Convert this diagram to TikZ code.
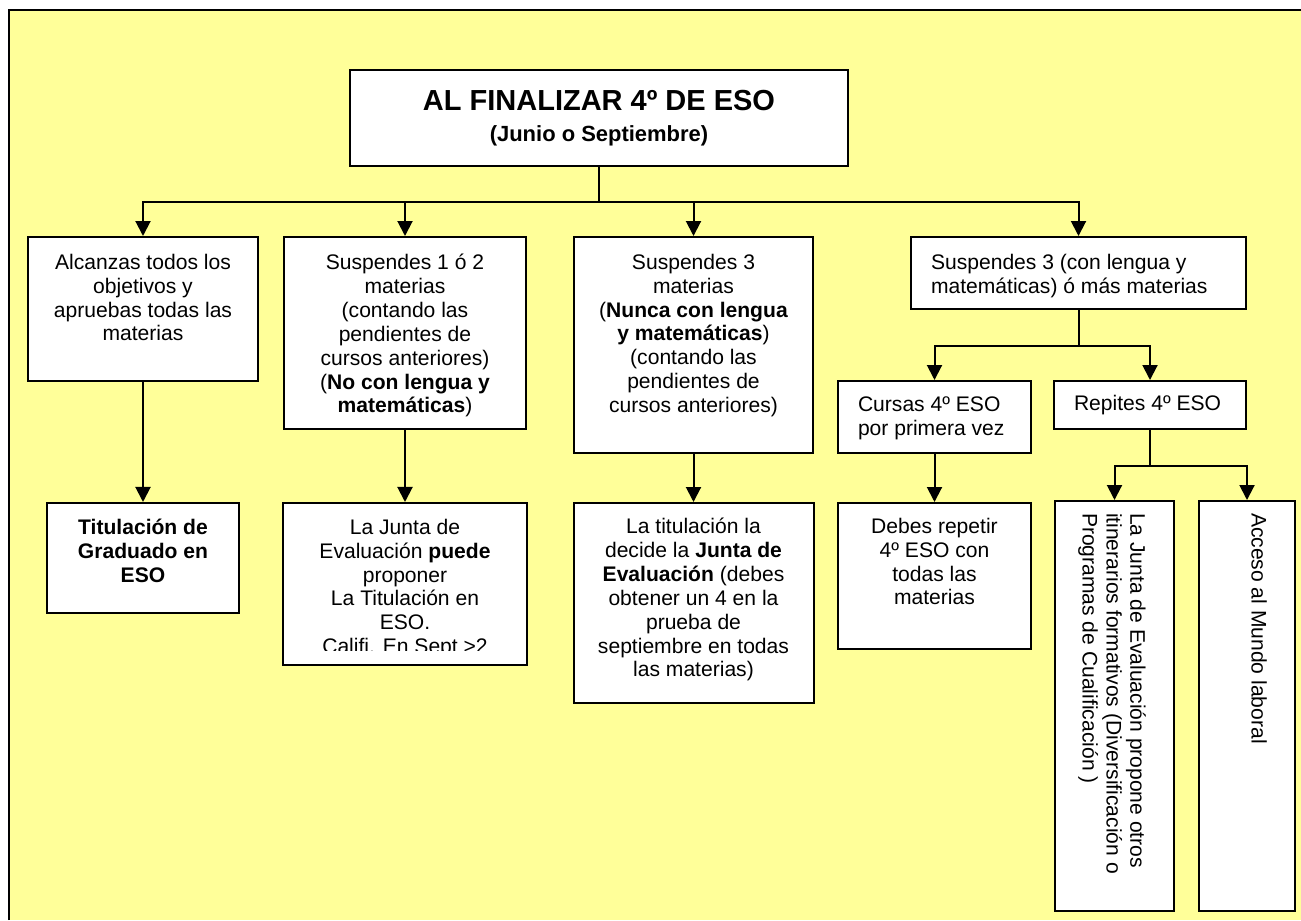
\documentclass[tikz,border=0pt]{standalone}
\usepackage{fontspec}
\setmainfont{Liberation Sans}
\usetikzlibrary{arrows.meta, positioning}
\definecolor{pageyellow}{HTML}{FFFF99}
\newdimen\pxunit
\pxunit=0.02cm
\newcommand{\boxtext}[4][17]{\parbox[c][#3\pxunit][t]{#2\pxunit}{\centering\vspace*{#1\pxunit}#4}}
\newcommand{\lefttext}[4][17]{\parbox[c][#3\pxunit][t]{#2\pxunit}{\raggedright\leftskip=20\pxunit\relax\vspace*{#1\pxunit}#4}}
\newcommand{\sidetext}[3]{\rotatebox{-90}{\parbox[c][#2\pxunit][t]{#1\pxunit}{\raggedright\leftskip=12\pxunit\relax\vspace*{28\pxunit}#3}}}

\begin{document}
\begin{tikzpicture}[x=0.02cm, y=-0.02cm, box/.style={draw, fill=white, line width=0.04cm, inner sep=0pt, font=\fontsize{12}{13.6}\selectfont}, conn/.style={line width=0.04cm}, arrow/.style={conn, -{Triangle[length=0.3cm, width=0.3cm]}}]

    \useasboundingbox (0,0) rectangle (1301,920);
    \fill[pageyellow] (9,10) rectangle (1301,920);
    \draw[line width=0.05cm] (9,920) -- (9,10) -- (1301,10);

    \node[box, anchor=north west] (title) at (349,69) {\parbox[c][96\pxunit][c]{498\pxunit}{\centering\bfseries{\fontsize{16.5}{20}\selectfont AL FINALIZAR 4º DE ESO\par}{\fontsize{12.5}{17.6}\selectfont (Junio o Septiembre)\par}}};

    \node[box, anchor=north west] (alc) at (27,236) {\boxtext{230}{144}{Alcanzas todos los\\ objetivos y\\ apruebas todas las\\ materias}};
    \node[box, anchor=north west] (s12) at (283,236) {\boxtext{242}{192}{Suspendes 1 ó 2\\ materias\\ (contando las\\ pendientes de\\ cursos anteriores)\\ (\textbf{No con lengua y}\\ \textbf{matemáticas})}};
    \node[box, anchor=north west] (s3) at (573,236) {\boxtext{239}{216}{Suspendes 3\\ materias\\ (\textbf{Nunca con lengua}\\ \textbf{y matemáticas})\\ (contando las\\ pendientes de\\ cursos anteriores)}};
    \node[box, anchor=north west] (s3l) at (910,236) {\lefttext{335}{72}{Suspendes 3 (con lengua y\\ matemáticas) ó más materias}};
    \node[box, anchor=north west] (cursas) at (837,380) {\lefttext[16]{193}{72}{Cursas 4º ESO\\ por primera vez}};
    \node[box, anchor=north west] (repites) at (1053,380) {\lefttext[14]{192}{48}{Repites 4º ESO}};

    \node[box, below=2.4cm of alc] (tit) {\boxtext[16]{192}{110}{\bfseries Titulación de\\ Graduado en\\ ESO}};
    \node[box, below=1.44cm of s12, minimum width=4.9cm, minimum height=3.24cm] (junta) {};
    \begin{scope}
        \clip (junta.north west) rectangle ([yshift=0.3cm]junta.south east);
        \node[box, draw=none, fill=none, anchor=north] (juntatext) at (junta.north) {\boxtext[16]{245}{162}{La Junta de\\ Evaluación \textbf{puede}\\ proponer\\ La Titulación en\\ ESO.\\ Califi. En Sept >2}};
    \end{scope}
    \node[box, below=0.96cm of s3] (decide) {\boxtext[15]{240}{200}{La titulación la\\ decide la \textbf{Junta de}\\ \textbf{Evaluación} (debes\\ obtener un 4 en la\\ prueba de\\ septiembre en todas\\ las materias)}};
    \node[box, below=0.96cm of cursas] (debes) {\boxtext[15]{193}{146}{Debes repetir\\ 4º ESO con\\ todas las\\ materias}};
    \node[box, anchor=north west] (v1) at (1054,500) {\sidetext{410}{119}{La Junta de Evaluación propone otros\\ itinerarios formativos (Diversificación o\\ Programas de Cualificación )}};
    \node[box, anchor=north west] (v2) at (1198,500) {\sidetext{410}{96}{Acceso al Mundo laboral}};

    \draw[conn] (title.south) -- ++(0,35) coordinate (bus);
    \foreach \n in {alc, s12, s3, s3l}
        \draw[arrow] (bus) -| (\n.north);
    \draw[conn] (s3l.south) -- ++(0,36) coordinate (split);
    \foreach \n in {cursas, repites}
        \draw[arrow] (split) -| (\n.north);
    \draw[conn] (repites.south) -- ++(0,36) coordinate (fork);
    \foreach \n in {v1, v2}
        \draw[arrow] (fork) -| (\n.north);

    \path[arrow]
    (alc) edge (tit)
    (s12) edge (junta)
    (s3) edge (decide)
    (cursas) edge (debes)
    ;

\end{tikzpicture}
\end{document}
